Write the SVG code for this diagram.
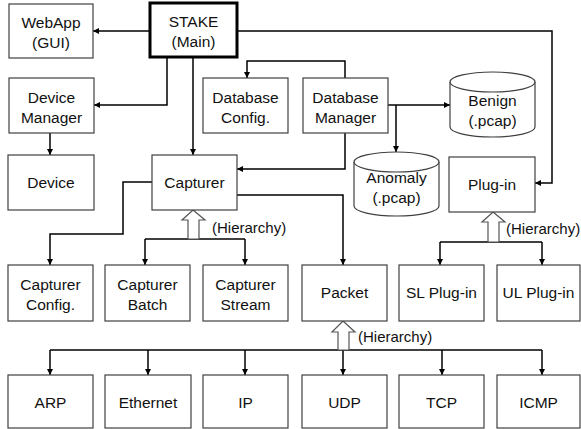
<svg xmlns="http://www.w3.org/2000/svg" width="581" height="429" viewBox="0 0 581 429">
<defs>
<style>
.box{fill:#fff;stroke:#404040;stroke-width:1.2}
.main{fill:#fff;stroke:#000;stroke-width:3}
.t{font-family:"Liberation Sans",Arial,sans-serif;font-size:15.5px;fill:#111;text-anchor:middle}
.h{font-family:"Liberation Sans",Arial,sans-serif;font-size:15px;fill:#111}
.c{fill:none;stroke:#000;stroke-width:1.5}
.ca{fill:none;stroke:#000;stroke-width:1.5;marker-end:url(#ah)}
.hol{fill:#fff;stroke:#555;stroke-width:1.2}
</style>
<marker id="ah" viewBox="0 0 6 6" refX="6" refY="3" markerWidth="6" markerHeight="6" markerUnits="userSpaceOnUse" orient="auto">
<path d="M0,0 L6,3 L0,6 z" fill="#000"/>
</marker>
</defs>
<rect width="581" height="429" fill="#fff"/>

<g id="connectors">
<path class="ca" d="M150,31 H93"/>
<path class="ca" d="M167,57 V105 H94"/>
<path class="ca" d="M193,57 V155"/>
<path class="ca" d="M237,31 H552 V183 H535"/>
<path class="ca" d="M345,78 V61 H247 V78"/>
<path class="ca" d="M388,105 H450"/>
<path class="ca" d="M396,105 V152"/>
<path class="ca" d="M345,133 V169 H237"/>
<path class="ca" d="M237,195 H343 V265"/>
<path class="ca" d="M50,133 V155"/>
<path class="ca" d="M152,182 H123 V234 H50 V265"/>
<path class="c" d="M145,239 H245"/>
<path class="ca" d="M145,239 V265"/>
<path class="ca" d="M245,239 V265"/>
<path class="c" d="M440,242 H542"/>
<path class="ca" d="M440,242 V265"/>
<path class="ca" d="M542,242 V265"/>
<path class="c" d="M50,350 H542"/>
<path class="ca" d="M50,350 V375"/>
<path class="ca" d="M148,350 V375"/>
<path class="ca" d="M245,350 V375"/>
<path class="ca" d="M343,350 V375"/>
<path class="ca" d="M442,350 V375"/>
<path class="ca" d="M542,350 V375"/>
<polygon class="hol" points="193,210 205,220 199,220 199,239 188,239 188,220 182,220"/>
<polygon class="hol" points="493,212 505,222 499,222 499,242 488,242 488,222 482,222"/>
<polygon class="hol" points="343,321 355,332 349,332 349,350 338,350 338,332 332,332"/>
<text class="h" x="212" y="233">(Hierarchy)</text>
<text class="h" x="506" y="234">(Hierarchy)</text>
<text class="h" x="358" y="342">(Hierarchy)</text>
</g>

<g id="webapp"><rect class="box" x="9" y="4" width="84" height="54"/><text class="t" x="51" y="28">WebApp</text><text class="t" x="51" y="48">(GUI)</text></g>
<g id="stake"><rect class="main" x="150" y="3" width="87" height="54"/><text class="t" x="193.5" y="27">STAKE</text><text class="t" x="193.5" y="47">(Main)</text></g>
<g id="device-manager"><rect class="box" x="9" y="78" width="85" height="55"/><text class="t" x="51.5" y="102.5">Device</text><text class="t" x="51.5" y="122.5">Manager</text></g>
<g id="database-config"><rect class="box" x="203" y="78" width="85" height="55"/><text class="t" x="245.5" y="102.5">Database</text><text class="t" x="245.5" y="122.5">Config.</text></g>
<g id="database-manager"><rect class="box" x="303" y="78" width="85" height="55"/><text class="t" x="345.5" y="102.5">Database</text><text class="t" x="345.5" y="122.5">Manager</text></g>
<g id="benign"><path class="box" d="M450,82 A42.5,10 0 0,1 535,82 V127 A42.5,10 0 0,1 450,127 Z"/><path class="box" d="M450,82 A42.5,10 0 0,0 535,82" fill="none"/><text class="t" x="492.5" y="106">Benign</text><text class="t" x="492.5" y="126">(.pcap)</text></g>
<g id="anomaly"><path class="box" d="M354,162 A42.5,10 0 0,1 439,162 V206 A42.5,10 0 0,1 354,206 Z"/><path class="box" d="M354,162 A42.5,10 0 0,0 439,162" fill="none"/><text class="t" x="396.5" y="183">Anomaly</text><text class="t" x="396.5" y="203">(.pcap)</text></g>
<g id="device"><rect class="box" x="8" y="155" width="86" height="55"/><text class="t" x="51" y="188">Device</text></g>
<g id="capturer"><rect class="box" x="152" y="155" width="85" height="55"/><text class="t" x="194.5" y="188">Capturer</text></g>
<g id="plugin"><rect class="box" x="449" y="157" width="86" height="55"/><text class="t" x="492" y="190">Plug-in</text></g>
<g id="capturer-config"><rect class="box" x="8" y="265" width="85" height="56"/><text class="t" x="50.5" y="290">Capturer</text><text class="t" x="50.5" y="310">Config.</text></g>
<g id="capturer-batch"><rect class="box" x="105" y="265" width="85" height="56"/><text class="t" x="147.5" y="290">Capturer</text><text class="t" x="147.5" y="310">Batch</text></g>
<g id="capturer-stream"><rect class="box" x="203" y="265" width="85" height="56"/><text class="t" x="245.5" y="290">Capturer</text><text class="t" x="245.5" y="310">Stream</text></g>
<g id="packet"><rect class="box" x="302" y="265" width="85" height="56"/><text class="t" x="344.5" y="298">Packet</text></g>
<g id="sl-plugin"><rect class="box" x="399" y="265" width="85" height="56"/><text class="t" x="441.5" y="298">SL Plug-in</text></g>
<g id="ul-plugin"><rect class="box" x="497" y="265" width="83" height="56"/><text class="t" x="538.5" y="298">UL Plug-in</text></g>
<g id="arp"><rect class="box" x="8" y="375" width="85" height="53"/><text class="t" x="50.5" y="408">ARP</text></g>
<g id="ethernet"><rect class="box" x="105" y="375" width="86" height="53"/><text class="t" x="148" y="408">Ethernet</text></g>
<g id="ip"><rect class="box" x="203" y="375" width="85" height="53"/><text class="t" x="245.5" y="408">IP</text></g>
<g id="udp"><rect class="box" x="302" y="375" width="85" height="53"/><text class="t" x="344.5" y="408">UDP</text></g>
<g id="tcp"><rect class="box" x="399" y="375" width="85" height="53"/><text class="t" x="441.5" y="408">TCP</text></g>
<g id="icmp"><rect class="box" x="497" y="375" width="83" height="53"/><text class="t" x="538.5" y="408">ICMP</text></g>
</svg>
